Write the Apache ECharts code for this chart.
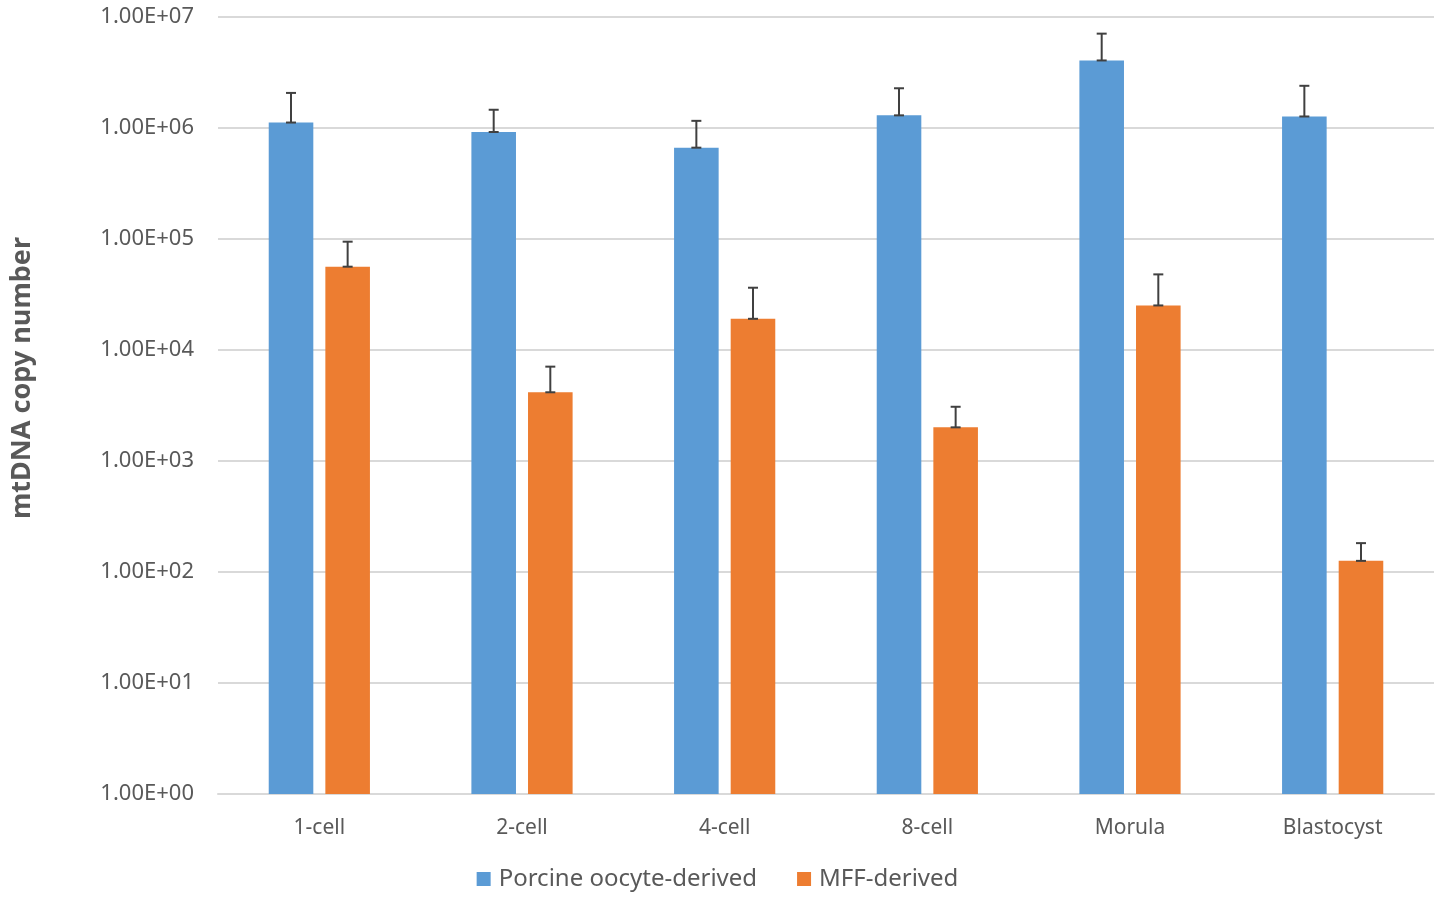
<!DOCTYPE html>
<html>
<head>
<meta charset="utf-8">
<script src="https://cdn.jsdelivr.net/npm/echarts@6/dist/echarts.min.js"></script>
<style>
html,body{margin:0;padding:0;background:#fff;}
#chart{width:1435px;height:900px;}
</style>
</head>
<body>
<div id="chart"></div>
<script>
const categories = ['1-cell', '2-cell', '4-cell', '8-cell', 'Morula', 'Blastocyst'];
const seriesNames = ['Porcine oocyte-derived', 'MFF-derived'];
const oocyteValues = [1.12e6, 9.2e5, 6.65e5, 1.30e6, 4.06e6, 1.27e6];
const oocyteErrTop = [2.07e6, 1.46e6, 1.16e6, 2.28e6, 7.08e6, 2.40e6];
const mffValues = [5.63e4, 4.16e3, 1.91e4, 2.01e3, 2.52e4, 126];
const mffErrTop = [9.46e4, 7.08e3, 3.64e4, 3.08e3, 4.80e4, 182];
const yTicks = [1, 10, 100, 1e3, 1e4, 1e5, 1e6, 1e7];
const yTitle = 'mtDNA copy number';

const FONT = '"Noto Sans", "Open Sans", sans-serif';
const BAR_W = 0.22;   // fraction of category band
const BAR_GAP = 0.27; // fraction of bar width

function fmtExp(v) {
  const e = Math.round(Math.log10(v));
  const s = (e < 10 ? '0' : '') + e;
  return '1.00E+' + s;
}

function errorSeries(values, tops, sign) {
  return {
    type: 'custom',
    z: 10,
    silent: true,
    data: values.map((v, i) => [i, v, tops[i]]),
    renderItem: function (params, api) {
      const idx = api.value(0);
      const band = api.size([1, 0])[0];
      const off = sign * band * BAR_W * (1 + BAR_GAP) / 2;
      const p0 = api.coord([idx, api.value(1)]);
      const p1 = api.coord([idx, api.value(2)]);
      const x = p0[0] + off;
      const cap = 5;
      const style = { stroke: '#404040', lineWidth: 2 };
      return {
        type: 'group',
        children: [
          { type: 'line', shape: { x1: x, y1: p0[1], x2: x, y2: p1[1] }, style: style },
          { type: 'line', shape: { x1: x - cap, y1: p1[1], x2: x + cap, y2: p1[1] }, style: style },
          { type: 'line', shape: { x1: x - cap, y1: p0[1], x2: x + cap, y2: p0[1] }, style: style }
        ]
      };
    }
  };
}

const chart = echarts.init(document.getElementById('chart'), null, { renderer: 'canvas' });
chart.setOption({
  animation: false,
  backgroundColor: '#ffffff',
  textStyle: { fontFamily: FONT },
  grid: { left: 218, right: 1, top: 17, bottom: 106, containLabel: false },
  graphic: [{
    type: 'text',
    x: 22,
    y: 378,
    rotation: Math.PI / 2,
    style: {
      text: yTitle,
      fontSize: 27,
      fontWeight: 'bold',
      fill: '#595959',
      fontFamily: FONT,
      align: 'center',
      verticalAlign: 'middle'
    }
  }],
  legend: {
    data: seriesNames,
    bottom: 4,
    left: 'center',
    itemWidth: 14,
    itemHeight: 14,
    itemGap: 40,
    icon: 'rect',
    textStyle: { fontSize: 24, color: '#595959', fontFamily: FONT, padding: [0, 0, 0, 3] }
  },
  xAxis: {
    type: 'category',
    data: categories,
    axisLine: { show: true, lineStyle: { color: '#d9d9d9', width: 2 } },
    axisTick: { show: false },
    axisLabel: { fontSize: 21, color: '#595959', margin: 24, fontFamily: FONT },
    splitLine: { show: false }
  },
  yAxis: {
    type: 'log',
    logBase: 10,
    min: yTicks[0],
    max: yTicks[yTicks.length - 1],
    axisLine: { show: false },
    axisTick: { show: false },
    axisLabel: { fontSize: 22, color: '#595959', margin: 24, formatter: fmtExp, fontFamily: FONT },
    splitLine: { show: true, lineStyle: { color: '#d9d9d9', width: 2 } }
  },
  series: [
    {
      name: seriesNames[0],
      type: 'bar',
      data: oocyteValues,
      barWidth: (BAR_W * 100) + '%',
      barGap: (BAR_GAP * 100) + '%',
      itemStyle: { color: '#5b9bd5' }
    },
    {
      name: seriesNames[1],
      type: 'bar',
      data: mffValues,
      barWidth: (BAR_W * 100) + '%',
      barGap: (BAR_GAP * 100) + '%',
      itemStyle: { color: '#ed7d31' }
    },
    errorSeries(oocyteValues, oocyteErrTop, -1),
    errorSeries(mffValues, mffErrTop, 1)
  ]
});
</script>
</body>
</html>
